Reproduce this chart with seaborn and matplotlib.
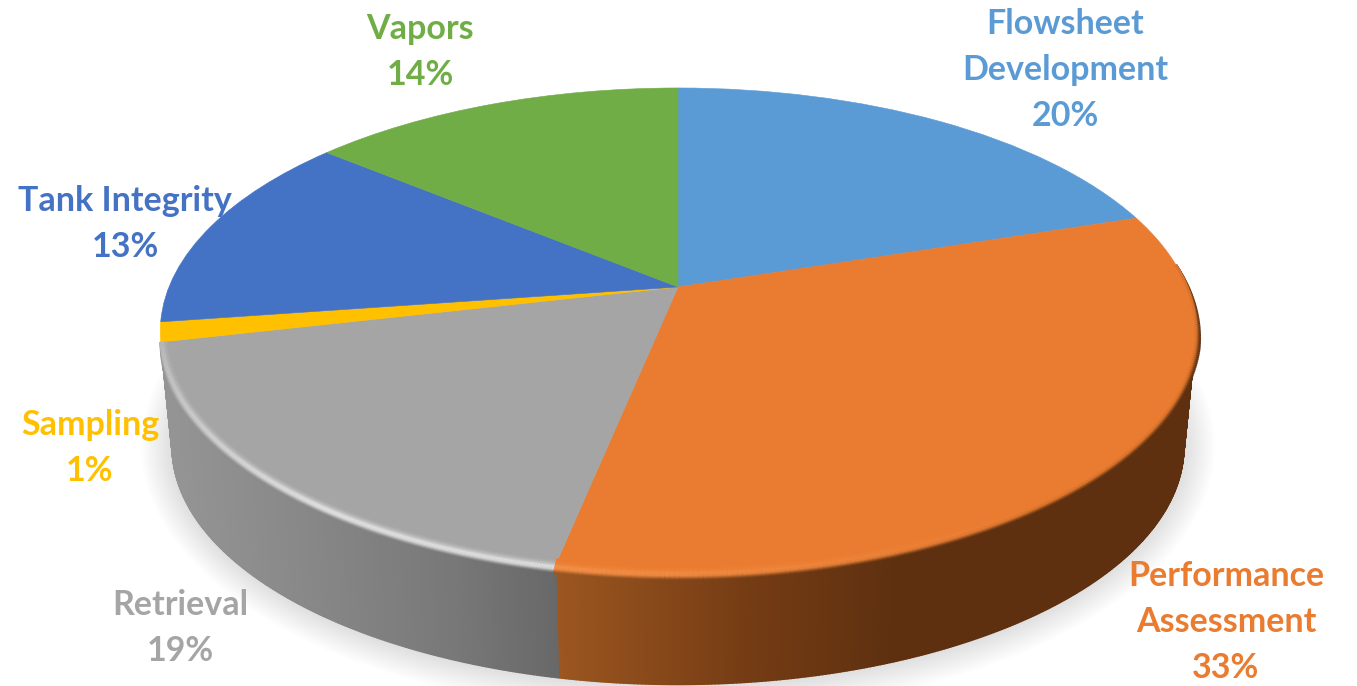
import numpy as np
import matplotlib
matplotlib.use("Agg")
import matplotlib.pyplot as plt
from matplotlib.collections import LineCollection, PolyCollection
from matplotlib.colors import to_rgb
from matplotlib.transforms import Transform
import seaborn as sns

categories = ["Flowsheet\nDevelopment", "Performance\nAssessment", "Retrieval", "Sampling", "Tank Integrity", "Vapors"]
values = [20.0, 33.2, 18.2, 1.3, 13.3, 14.0]
percent_labels = ["20%", "33%", "19%", "1%", "13%", "14%"]
slice_colors = ["#5B9BD5", "#E97C30", "#A5A5A5", "#FFC000", "#4472C4", "#70AD47"]
label_xy = [(1065, 70), (1226, 622), (180, 628), (90, 448), (125, 224), (420, 52)]

CX, CY, A, B, K = 678.0, 287.0, 509.0, 235.4, 0.1827
ELL_Y = 331.0
DROP, SHRINK = 115.0, 0.977

sns.set_theme(style="white")
plt.rcParams["font.family"] = ["Lato", "DejaVu Sans"]
palette = sns.color_palette(slice_colors)


class Tilt(Transform):
    input_dims = output_dims = 2
    def transform_non_affine(self, pts):
        pts = np.asarray(pts, float)
        w = 1 + K * pts[:, 1]
        return np.column_stack([CX + A * pts[:, 0] / w, CY - B * pts[:, 1] / w])


tilt = Tilt()


def rim(frac, d=0.0):
    a = 2 * np.pi * np.asarray(frac)
    p = tilt.transform_non_affine(np.column_stack([np.sin(a), np.cos(a)]))
    x = CX + (p[:, 0] - CX) * (1 + d / 518.0)
    y = ELL_Y + (p[:, 1] - ELL_Y) * (1 + d / 245.0)
    return np.column_stack([x, y])


def base(frac, d=0.0):
    p = rim(frac, d)
    return np.column_stack([CX + (p[:, 0] - CX) * SHRINK, ELL_Y + (p[:, 1] - ELL_Y) * SHRINK + DROP])


def ramp(x, xs, cols):
    c = np.array([to_rgb(k) for k in cols])
    return np.column_stack([np.interp(x, xs, c[:, i]) for i in range(3)])


fig, ax = plt.subplots(figsize=(13.57, 6.86), dpi=100)
fig.subplots_adjust(0, 0, 1, 1)

wedges, _ = ax.pie(values, colors=palette, startangle=90, counterclock=False,
                   radius=1.0, center=(0, 0))
ax.set_aspect("auto")
ax.set_xlim(0, 1357)
ax.set_ylim(686, 0)
ax.axis("off")
for w, c in zip(wedges, palette):
    w.set_transform(tilt + ax.transData)
    w.set_edgecolor(c)
    w.set_linewidth(0.4)
    w.set_zorder(5)

edges = np.cumsum([0] + values) / sum(values)
f_orange, f_gray, f_yellow = edges[1], edges[2], edges[3]

GRAY_X, GRAY_WALL = [170, 300, 450, 556], ["#949494", "#888888", "#787878", "#686868"]
ORANGE_X, ORANGE_WALL = [556, 750, 900], ["#9C5620", "#743C14", "#5E3010"]

# soft ground shadow
ring = np.linspace(0, 1, 361)
for d in np.arange(32, 0, -2.0):
    ax.fill(*base(ring, d).T, color="black", alpha=0.009, lw=0, zorder=1)

# side wall
fr = np.linspace(0.235, f_yellow, 500)
r0, b0 = rim(fr), base(fr)
polys = [np.vstack([r0[i], r0[i + 1], b0[i + 1], b0[i]]) for i in range(len(fr) - 1)]
xm = 0.5 * (r0[:-1, 0] + r0[1:, 0])
fm = 0.5 * (fr[:-1] + fr[1:])
side = np.where((fm > f_gray)[:, None], ramp(xm, GRAY_X, GRAY_WALL), ramp(xm, ORANGE_X, ORANGE_WALL))
ax.add_collection(PolyCollection(polys, facecolors=side, edgecolors=side, linewidths=1.2, zorder=3))


# bevel between the top face and the wall; it tapers away where the wall ends
def band(f0, f1, face, peak, hs, wall_x, wall_c, taper):
    f = np.linspace(f0, f1, 240)
    fc = 0.5 * (f[:-1] + f[1:])
    h = np.interp(fc, *hs)[:, None]
    wall = ramp(rim(fc)[:, 0], wall_x, wall_c)
    face_c, peak_c = np.array(to_rgb(face)), np.array(to_rgb(peak))
    tp = np.interp(f, *taper)
    for d in np.arange(-9, 5.5, 1.0):
        p = rim(f, np.where(np.asarray(d) > 0, d * tp, d))
        segs = np.stack([p[:-1], p[1:]], axis=1)
        top = face_c + (peak_c - face_c) * h
        if d <= -1:
            t = (d + 9) / 8.0
            col = face_c + (top - face_c) * t ** 2
        else:
            t = (d + 1) / 6.0
            t = t * t * (3 - 2 * t)
            col = top + (wall - top) * t
        ax.add_collection(LineCollection(segs, colors=col, linewidths=1.6, zorder=6 - 0.01 * abs(d),
                                         capstyle="butt"))


band(f_gray, f_yellow, "#A5A5A5", "#E2E2E2",
     ([f_gray, f_gray + 0.07, f_yellow - 0.03, f_yellow], [0.95, 1.0, 0.55, 0.35]),
     GRAY_X, GRAY_WALL, ([f_yellow - 0.03, f_yellow], [1.0, 0.0]))
band(0.235, f_gray, "#E97C30", "#F59048",
     ([0.235, 0.40, f_gray], [0.0, 0.0, 1.0]),
     ORANGE_X, ORANGE_WALL, ([0.235, 0.29], [0.0, 1.0]))

for name, pct, (x, y), c in zip(categories, percent_labels, label_xy, palette):
    ax.text(x, y, f"{name}\n{pct}", ha="center", va="center", color=c, fontsize=24.5,
            fontweight="bold", linespacing=1.53, zorder=8)

fig.savefig("out.png", dpi=100)
